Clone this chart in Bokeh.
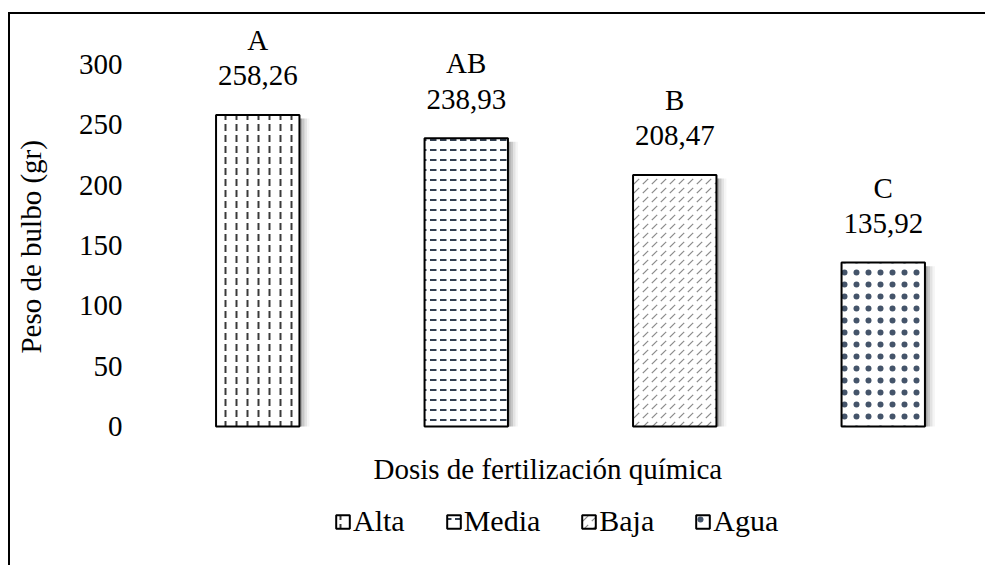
from bokeh.plotting import figure
from bokeh.models import Range1d, FactorRange, FixedTicker, Legend, LegendItem, Label, ColumnDataSource
from bokeh.transform import dodge
from bokeh.core.properties import value
from bokeh.embed import file_html
from bokeh.resources import INLINE

# ---- data ----
categories = ["Alta", "Media", "Baja", "Agua"]
peso = [258.26, 238.93, 208.47, 135.92]
letras = ["A", "AB", "B", "C"]
y_ticks = [0, 50, 100, 150, 200, 250, 300]
x_title = "Dosis de fertilización química"
y_title = "Peso de bulbo (gr)"

# ---- styles ----
hatches = ["vertical_dash", "horizontal_dash", "right_diagonal_dash", "dot"]
hatch_colors = ["#3a3a3a", "#333f50", "#8a8a8a", "#44546a"]
hatch_scales = [11, 10, 9, 12]
hatch_weights = [2, 2, 1.2, 0.5]
FONT = "Liberation Serif"
FS = "29px"

etiquetas = [f"{v:.2f}".replace(".", ",") for v in peso]
src = ColumnDataSource(dict(cat=categories, peso=peso, letra=letras, etiqueta=etiquetas,
                            hatch=hatches, hcolor=hatch_colors, hscale=hatch_scales,
                            hweight=hatch_weights, sombra=[v - 3 for v in peso]))

W, H = 977, 553
p = figure(width=W, height=H, x_range=FactorRange(*categories), y_range=Range1d(-116.85, 336.5),
           output_backend="svg", toolbar_location=None,
           min_border_left=143, min_border_right=0, min_border_top=6, min_border_bottom=0)
p.styles = {"border-top": "2px solid black", "border-left": "2px solid black",
            "margin-top": "12px", "margin-left": "8px"}

# shadow
for off, a in [(0.012, 0.18), (0.024, 0.12), (0.036, 0.07), (0.048, 0.04)]:
    p.vbar(x=dodge("cat", off, range=p.x_range), top="sombra", width=0.4, source=src,
           fill_color="#000000", fill_alpha=a, line_color=None)

bars = p.vbar(x="cat", top="peso", width=0.4, source=src, fill_color="white",
              line_color="black", line_width=2,
              hatch_pattern="hatch", hatch_color="hcolor", hatch_scale="hscale",
              hatch_weight="hweight")

p.text(x="cat", y="peso", text="etiqueta", source=src, y_offset=-39,
       text_align="center", text_baseline="middle",
       text_font=value(FONT), text_font_size=FS, text_color="black")
p.text(x="cat", y="peso", text="letra", source=src, y_offset=-75,
       text_align="center", text_baseline="middle",
       text_font=value(FONT), text_font_size=FS, text_color="black")

p.xaxis.visible = False
p.grid.visible = False
p.outline_line_color = None

ax = p.yaxis[0]
ax.ticker = FixedTicker(ticks=y_ticks)
ax.axis_line_color = None
ax.major_tick_line_color = None
ax.minor_tick_line_color = None
ax.major_label_standoff = 25
ax.major_label_text_font = FONT
ax.major_label_text_font_size = FS
ax.major_label_text_color = "black"
# leading no-break spaces lift the centred label to the middle of the 0-300 axis
ax.axis_label = "\u00a0" * 13 + y_title
ax.axis_label_text_font = FONT
ax.axis_label_text_font_size = FS
ax.axis_label_text_font_style = "normal"
ax.axis_label_text_color = "black"
ax.axis_label_standoff = 29

xt = Label(x=220, y=99, x_units="screen", y_units="screen", text=x_title,
           text_font=FONT, text_font_size=FS, text_color="black", text_baseline="middle")
p.add_layout(xt)

items = [LegendItem(label=c, renderers=[bars], index=i) for i, c in enumerate(categories)]
leg = Legend(items=items, orientation="horizontal", location=(181, 29),
             label_text_font=FONT, label_text_font_size="30px", label_text_color="black",
             glyph_width=17, glyph_height=17, label_standoff=2, spacing=40,
             padding=0, margin=0, border_line_color=None, background_fill_alpha=0)
p.add_layout(leg)

open("out.html", "w").write(file_html(p, INLINE))
